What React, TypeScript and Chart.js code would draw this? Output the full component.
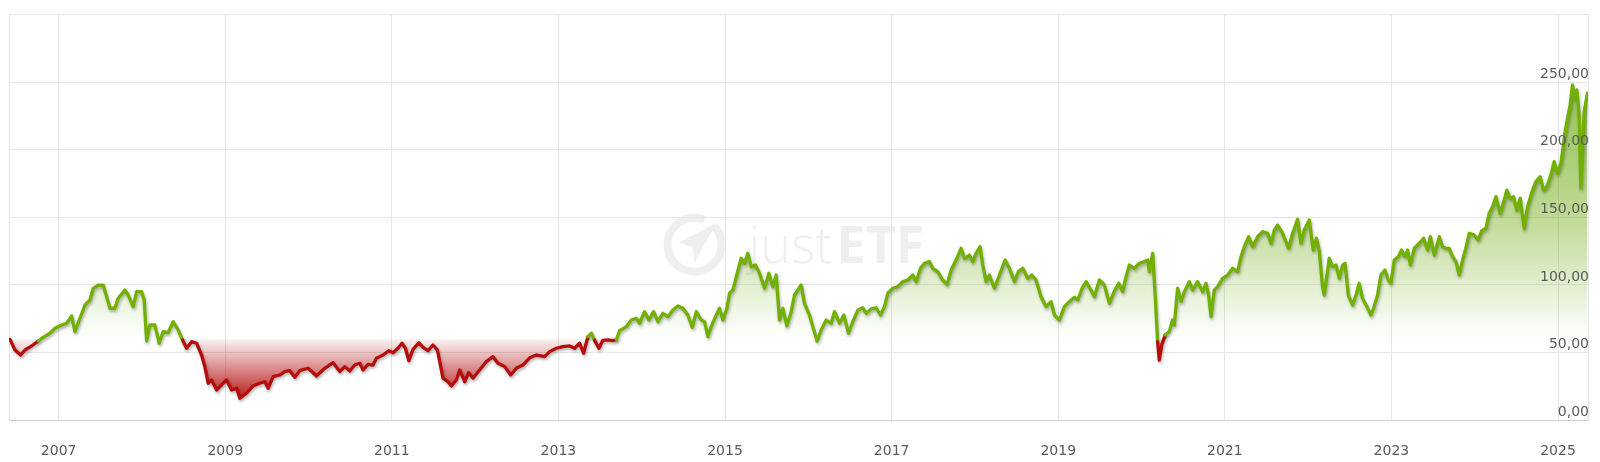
import React, { useEffect, useRef } from 'react';
import { Chart, registerables } from 'chart.js';

Chart.register(...registerables);

// decimal year of each reading
const DATES: number[] = [
  2006.416, 2006.476, 2006.544, 2006.596, 2006.676, 2006.755, 2006.815, 2006.896, 2006.956,
  2007.036, 2007.096, 2007.156, 2007.196, 2007.256, 2007.316, 2007.376, 2007.415, 2007.475, 2007.535,
  2007.576, 2007.616, 2007.675, 2007.715, 2007.795, 2007.835, 2007.895, 2007.936, 2007.996,
  2008.027, 2008.056, 2008.095, 2008.155, 2008.207, 2008.255, 2008.315, 2008.375, 2008.435, 2008.488,
  2008.536, 2008.596, 2008.656, 2008.716, 2008.755, 2008.795, 2008.836, 2008.896, 2008.956,
  2009.016, 2009.076, 2009.136, 2009.175, 2009.256, 2009.335, 2009.415, 2009.475, 2009.515, 2009.575,
  2009.655, 2009.715, 2009.775, 2009.835, 2009.895, 2009.995,
  2010.095, 2010.195, 2010.295, 2010.375, 2010.435, 2010.495, 2010.555, 2010.615, 2010.655, 2010.715,
  2010.775, 2010.815, 2010.895, 2010.963,
  2011.015, 2011.074, 2011.122, 2011.163, 2011.203, 2011.255, 2011.323, 2011.374, 2011.434, 2011.494,
  2011.547, 2011.575, 2011.614, 2011.674, 2011.715, 2011.775, 2011.815, 2011.875, 2011.923, 2011.974,
  2012.054, 2012.135, 2012.214, 2012.274, 2012.355, 2012.427, 2012.495, 2012.574, 2012.655, 2012.735,
  2012.835, 2012.895, 2012.975,
  2013.054, 2013.135, 2013.194, 2013.254, 2013.302, 2013.354, 2013.395, 2013.434, 2013.486, 2013.534,
  2013.594, 2013.654, 2013.695, 2013.734, 2013.815, 2013.875, 2013.935, 2013.974,
  2014.034, 2014.086, 2014.142, 2014.194, 2014.254, 2014.314, 2014.374, 2014.434, 2014.494, 2014.554,
  2014.607, 2014.655, 2014.715, 2014.754, 2014.794, 2014.834, 2014.894, 2014.934, 2014.974,
  2015.022, 2015.054, 2015.094, 2015.135, 2015.194, 2015.234, 2015.274, 2015.314, 2015.366, 2015.414,
  2015.474, 2015.526, 2015.574, 2015.614, 2015.654, 2015.694, 2015.742, 2015.794, 2015.834, 2015.914,
  2015.954,
  2016.014, 2016.054, 2016.106, 2016.154, 2016.214, 2016.274, 2016.314, 2016.374, 2016.426, 2016.482,
  2016.534, 2016.594, 2016.654, 2016.694, 2016.754, 2016.814, 2016.866, 2016.914, 2016.954,
  2017.014, 2017.074, 2017.134, 2017.194, 2017.254, 2017.294, 2017.346, 2017.394, 2017.454, 2017.494,
  2017.554, 2017.614, 2017.666, 2017.714, 2017.774, 2017.834, 2017.874, 2017.934, 2017.974,
  2018.014, 2018.062, 2018.094, 2018.134, 2018.174, 2018.234, 2018.294, 2018.362, 2018.414, 2018.474,
  2018.522, 2018.574, 2018.634, 2018.682, 2018.734, 2018.794, 2018.854, 2018.914, 2018.954,
  2019.014, 2019.074, 2019.134, 2019.194, 2019.234, 2019.286, 2019.334, 2019.394, 2019.434, 2019.494,
  2019.554, 2019.614, 2019.662, 2019.726, 2019.774, 2019.814, 2019.854, 2019.914, 2019.974,
  2020.034, 2020.074, 2020.094, 2020.134, 2020.166, 2020.193, 2020.213, 2020.245, 2020.285, 2020.333,
  2020.373, 2020.393, 2020.433, 2020.474, 2020.514, 2020.574, 2020.614, 2020.674, 2020.734, 2020.774,
  2020.805, 2020.834, 2020.874, 2020.914, 2020.974,
  2021.034, 2021.094, 2021.154, 2021.194, 2021.234, 2021.286, 2021.334, 2021.394, 2021.454, 2021.514,
  2021.554, 2021.594, 2021.634, 2021.694, 2021.766, 2021.814, 2021.874, 2021.914, 2021.954,
  2022.014, 2022.062, 2022.101, 2022.133, 2022.173, 2022.193, 2022.254, 2022.294, 2022.335, 2022.374,
  2022.414, 2022.443, 2022.483, 2022.534, 2022.575, 2022.613, 2022.653, 2022.706, 2022.754, 2022.786,
  2022.834, 2022.874, 2022.922, 2022.962, 2022.994,
  2023.034, 2023.082, 2023.122, 2023.163, 2023.194, 2023.227, 2023.275, 2023.335, 2023.386, 2023.434,
  2023.467, 2023.515, 2023.575, 2023.614, 2023.655, 2023.694, 2023.734, 2023.775, 2023.814, 2023.854,
  2023.894, 2023.934, 2023.994,
  2024.042, 2024.082, 2024.134, 2024.174, 2024.214, 2024.255, 2024.306, 2024.354, 2024.386, 2024.426,
  2024.466, 2024.506, 2024.546, 2024.594, 2024.634, 2024.682, 2024.734, 2024.786, 2024.826, 2024.866,
  2024.914, 2024.954, 2024.994,
  2025.035, 2025.054, 2025.082, 2025.114, 2025.146, 2025.174, 2025.202, 2025.226, 2025.254, 2025.274,
  2025.294, 2025.314, 2025.354,
];

// price readings (EUR)
const PRICES: number[] = [
  59.7, 51.8, 48.1, 51.8, 54.8, 58.5, 61.2, 64.2, 67.9,
  70.3, 71.6, 77.0, 65.4, 75.3, 85.1, 88.8, 97.5, 99.9, 99.9,
  91.3, 82.7, 82.7, 90.1, 96.2, 92.5, 83.9, 95.0, 95.0,
  88.8, 58.5, 70.3, 70.3, 56.8, 65.4, 64.6, 72.8, 66.6, 59.2,
  53.1, 58.0, 56.8, 48.1, 39.5, 27.2, 29.6, 22.2, 25.9,
  29.6, 22.2, 23.5, 16.1, 19.8, 25.2, 27.2, 28.3, 23.5, 32.1,
  33.3, 35.8, 36.5, 31.6, 36.5, 38.3,
  32.6, 38.3, 42.4, 35.8, 39.5, 36.3, 40.7, 42.0, 37.0, 41.2,
  40.7, 45.7, 48.1, 51.3,
  49.8, 53.1, 56.8, 53.1, 43.9, 52.3, 57.2, 53.8, 51.3, 55.5,
  51.8, 43.2, 30.9, 28.3, 25.2, 29.6, 37.0, 28.3, 35.0, 30.9,
  37.0, 43.2, 46.9, 42.0, 39.5, 33.3, 38.3, 40.7, 46.0, 48.1,
  46.9, 50.6, 53.1,
  54.3, 54.8, 53.1, 56.8, 49.4, 61.7, 64.2, 59.0, 53.1, 59.0,
  59.3, 58.8, 59.4, 66.1, 69.1, 74.0, 75.3, 71.6,
  80.2, 74.0, 80.2, 72.8, 79.0, 76.5, 81.4, 84.4, 82.7, 77.7,
  68.6, 80.2, 74.0, 72.8, 61.7, 69.1, 77.7, 82.7, 74.0,
  82.7, 93.8, 96.2, 106.1, 119.7, 116.0, 123.4, 113.5, 114.7, 108.6,
  97.5, 108.6, 98.7, 107.3, 74.0, 82.7, 69.6, 80.2, 92.5, 99.9,
  86.4,
  77.7, 69.1, 58.5, 66.6, 74.0, 71.6, 80.2, 71.6, 77.7, 64.2,
  72.8, 81.4, 83.1, 79.0, 82.2, 83.1, 77.7, 83.9, 93.8,
  97.5, 98.7, 102.4, 103.6, 107.3, 102.4, 112.3, 116.0, 117.2, 112.3,
  109.8, 103.6, 100.4, 111.0, 118.4, 127.1, 119.7, 122.1, 117.2,
  123.4, 128.3, 114.7, 102.4, 107.3, 97.5, 107.3, 118.4, 112.3, 102.4,
  109.8, 112.3, 104.9, 107.3, 103.6, 91.3, 83.9, 87.6, 77.7,
  74.0, 83.9, 87.6, 90.8, 88.8, 97.5, 102.4, 96.2, 91.3, 103.6,
  99.9, 86.4, 93.8, 101.2, 95.0, 106.1, 114.7, 112.3, 116.0,
  117.2, 118.4, 109.8, 123.4, 90.1, 58.0, 44.4, 56.0, 63.0, 65.4,
  74.0, 70.3, 97.5, 87.6, 95.0, 102.4, 96.2, 102.4, 95.0, 101.2,
  92.5, 76.5, 96.2, 98.7, 104.9,
  107.3, 112.3, 109.8, 120.9, 128.3, 135.7, 128.3, 135.7, 139.4, 138.2,
  130.8, 140.6, 144.3, 138.2, 127.1, 138.2, 148.6, 130.8, 140.6,
  148.0, 125.8, 134.5, 125.8, 98.7, 92.5, 119.7, 113.5, 114.7, 104.9,
  114.7, 116.0, 92.5, 85.1, 92.5, 101.2, 90.1, 83.9, 77.7, 82.7,
  92.5, 107.3, 111.0, 103.6, 101.2,
  118.4, 120.9, 125.8, 120.9, 125.8, 114.7, 127.1, 130.8, 134.5, 125.8,
  135.7, 122.1, 135.7, 128.3, 127.1, 127.1, 120.9, 117.2, 107.3, 118.4,
  127.1, 138.2, 136.9,
  133.2, 139.9, 141.9, 153.0, 157.9, 165.3, 153.0, 162.8, 170.2, 164.1,
  165.3, 155.4, 164.1, 141.9, 157.9, 167.8, 176.4, 180.1, 170.2, 172.7,
  181.3, 191.2, 182.6,
  190.0, 198.6, 212.2, 223.3, 233.2, 248.0, 238.1, 244.3, 225.8, 172.0,
  206.0, 228.2, 242.0,
];

const YEAR_TICKS: number[] = [2007, 2009, 2011, 2013, 2015, 2017, 2019, 2021, 2023, 2025];
const VALUE_TICKS: number[] = [0, 50, 100, 150, 200, 250, 300];
const X_MIN = 2006.404;
const X_MAX = 2025.36;
const Y_MIN = 0;
const Y_MAX = 300;
const BASELINE = PRICES[0];

const GREEN = '#72b000';
const RED = '#b50c0c';
const GRID = '#e6e6e6';
const LABEL = '#5a5a5a';
const FONT = '"DejaVu Sans", sans-serif';

const watermark = {
  id: 'watermark',
  beforeDraw(chart: any) {
    const { ctx, chartArea } = chart;
    if (!chartArea) return;
    const cx = (chartArea.left + chartArea.right) / 2;
    const cy = chartArea.top + 230;
    ctx.save();
    ctx.strokeStyle = '#efefef';
    ctx.fillStyle = '#efefef';
    // ring logo
    ctx.lineWidth = 8;
    ctx.beginPath();
    ctx.arc(cx - 104, cy, 27, -0.25 * Math.PI, 1.62 * Math.PI);
    ctx.stroke();
    // arrow inside
    ctx.beginPath();
    ctx.moveTo(cx - 82, cy - 22);
    ctx.lineTo(cx - 120, cy - 2);
    ctx.lineTo(cx - 106, cy + 2);
    ctx.lineTo(cx - 104, cy + 18);
    ctx.closePath();
    ctx.fill();
    // text
    ctx.textBaseline = 'alphabetic';
    ctx.textAlign = 'left';
    const bx = cx - 50;
    const by = cy + 18;
    ctx.font = '300 52px "Open Sans", sans-serif';
    ctx.fillText('just', bx, by);
    const w = ctx.measureText('just').width;
    ctx.font = 'bold 52px "Open Sans", sans-serif';
    ctx.fillText('ETF', bx + w + 4, by);
    ctx.restore();
  },
};

const lineShadow = {
  id: 'lineShadow',
  beforeDatasetDraw(chart: any) {
    const ctx = chart.ctx;
    ctx.save();
    ctx.shadowColor = 'rgba(0,0,0,0.3)';
    ctx.shadowBlur = 3;
    ctx.shadowOffsetX = 1;
    ctx.shadowOffsetY = 2;
  },
  afterDatasetDraw(chart: any) {
    chart.ctx.restore();
  },
};

export default function App() {
  const canvasRef = useRef<HTMLCanvasElement | null>(null);

  useEffect(() => {
    if (!canvasRef.current) return;
    const points = DATES.map((d, i) => ({ x: d, y: PRICES[i] }));

    const chart = new Chart(canvasRef.current, {
      type: 'line',
      data: {
        datasets: [
          {
            data: points,
            borderWidth: 3.3,
            borderColor: GREEN,
            pointRadius: 0,
            pointHoverRadius: 0,
            tension: 0,
            borderJoinStyle: 'round',
            borderCapStyle: 'round',
            fill: { value: BASELINE },
            segment: {
              borderColor: (c: any) =>
                (c.p0.parsed.y + c.p1.parsed.y) / 2 < BASELINE ? RED : GREEN,
            },
            backgroundColor: (c: any) => {
              const ch = c.chart;
              const area = ch.chartArea;
              if (!area) return 'rgba(0,0,0,0)';
              const ys = ch.scales.y;
              const top = ys.getPixelForValue(250);
              const bottom = ys.getPixelForValue(15);
              const base = ys.getPixelForValue(BASELINE);
              const f = (p: number) => Math.min(1, Math.max(0, (p - top) / (bottom - top)));
              const g = ch.ctx.createLinearGradient(0, top, 0, bottom);
              g.addColorStop(0, 'rgba(112,172,20,0.75)');
              g.addColorStop(f(ys.getPixelForValue(150)), 'rgba(112,172,20,0.45)');
              g.addColorStop(f(ys.getPixelForValue(100)), 'rgba(112,172,20,0.2)');
              g.addColorStop(f(base) - 0.001, 'rgba(112,172,20,0)');
              g.addColorStop(f(base), 'rgba(180,10,10,0.06)');
              g.addColorStop(1, 'rgba(175,0,0,0.9)');
              return g;
            },
          } as any,
        ],
      },
      options: {
        animation: false,
        responsive: false,
        maintainAspectRatio: false,
        events: [],
        layout: { padding: { left: 9, right: 10, top: 14.7, bottom: 0 } },
        plugins: {
          legend: { display: false },
          tooltip: { enabled: false },
        },
        scales: {
          x: {
            type: 'linear',
            min: X_MIN,
            max: X_MAX,
            afterBuildTicks: (scale: any) => {
              scale.ticks = YEAR_TICKS.map((v) => ({ value: v }));
            },
            afterFit: (scale: any) => {
              scale.height = 42;
            },
            ticks: {
              autoSkip: false,
              maxRotation: 0,
              padding: 23,
              color: LABEL,
              font: { family: FONT, size: 14 },
              callback: (v: any) => String(v),
            },
            grid: { color: GRID, lineWidth: 1, drawTicks: false },
            border: { display: true, color: '#cccccc', width: 1 },
          },
          y: {
            type: 'linear',
            position: 'right',
            min: Y_MIN,
            max: Y_MAX,
            afterBuildTicks: (scale: any) => {
              scale.ticks = VALUE_TICKS.map((v) => ({ value: v }));
            },
            ticks: {
              mirror: true,
              padding: 1,
              labelOffset: -8,
              z: 1,
              color: LABEL,
              font: { family: FONT, size: 14 },
              callback: (v: any) => (v === Y_MAX ? '' : Number(v).toFixed(2).replace('.', ',')),
            },
            grid: { color: GRID, lineWidth: 1, drawTicks: false },
            border: { display: true, color: GRID, width: 1 },
          },
          yLeft: {
            type: 'linear',
            position: 'left',
            min: Y_MIN,
            max: Y_MAX,
            ticks: { display: false },
            grid: { display: false, drawTicks: false },
            border: { display: true, color: GRID, width: 1 },
          },
        },
      } as any,
      plugins: [watermark, lineShadow],
    });

    return () => {
      chart.destroy();
    };
  }, []);

  return (
    <div style={{ position: 'absolute', left: 0, top: 0, width: 1600, height: 462, background: '#fff' }}>
      <canvas ref={canvasRef} width={1600} height={462} style={{ width: 1600, height: 462 }} />
    </div>
  );
}
